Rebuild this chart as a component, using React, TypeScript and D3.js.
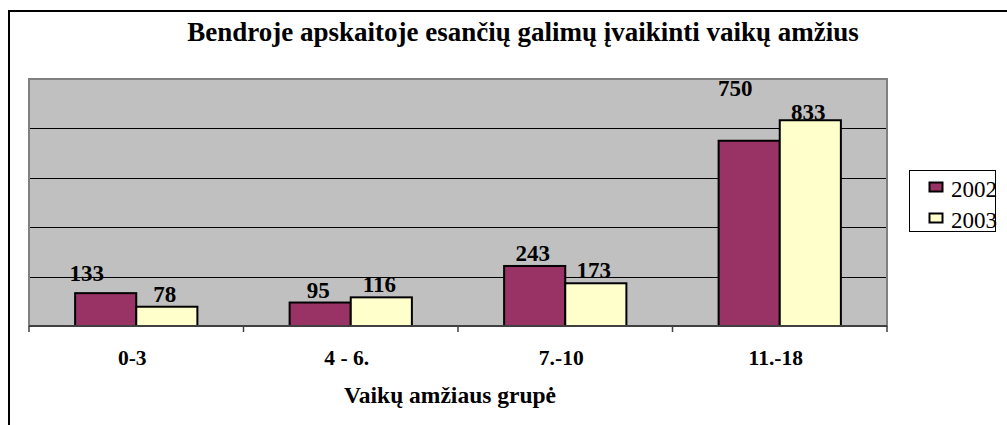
import React from 'react'
import * as d3 from 'd3'

const categories = ['0-3', '4 - 6.', '7.-10', '11.-18']
const seriesNames = ['2002', '2003']
const values2002 = [133, 95, 243, 750]
const values2003 = [78, 116, 173, 833]
const yTicks = [0, 200, 400, 600, 800, 1000]

const colors = ['#993366', '#FFFFCC']
const font = 'Liberation Serif'

// Excel moved a couple of labels off their bars, mimic that
const labelNudge: Record<string, [number, number]> = {
    '0-3|2002': [-17, -7],
    '11.-18|2002': [-12, -40],
    '11.-18|2003': [0, 5],
}

function App() {
    const W = 1007, H = 425
    const margin = { left: 29, right: 887, top: 79, bottom: 326 }

    const x = d3.scaleBand<string>()
        .domain(categories)
        .range([margin.left, margin.right])

    const barW = x.bandwidth() * 0.285
    const x1 = d3.scaleBand<string>()
        .domain(seriesNames)
        .range([(x.bandwidth() - barW * 2) / 2, (x.bandwidth() + barW * 2) / 2])

    const y = d3.scaleLinear()
        .domain([0, 1000])
        .range([margin.bottom, margin.top])

    const series = [values2002, values2003]

    return (
        <svg width={W} height={H} style={{ position: 'absolute', left: 0, top: 0 }}>
            <rect x={0} y={0} width={W} height={H} fill="#fff" />
            {/* outer chart frame */}
            <rect x={9} y={11} width={W + 20} height={H + 20} fill="none" stroke="#000" strokeWidth={2} />

            <text x={523} y={41} textAnchor="middle" fontSize={27} fontWeight="bold" fontFamily={font}>
                Bendroje apskaitoje esančių galimų įvaikinti vaikų amžius
            </text>

            {/* plot area */}
            <rect x={margin.left} y={margin.top} width={margin.right - margin.left}
                height={margin.bottom - margin.top} fill="#C0C0C0" />
            {yTicks.slice(1, -1).map(t => (
                <line key={t} x1={margin.left} x2={margin.right} y1={Math.round(y(t)) + 0.5} y2={Math.round(y(t)) + 0.5}
                    stroke="#000" strokeWidth={1} />
            ))}
            <rect x={margin.left} y={margin.top} width={margin.right - margin.left}
                height={margin.bottom - margin.top} fill="none" stroke="#808080" strokeWidth={2} />

            {/* bars */}
            {categories.map((c, i) => (
                <g key={c} transform={`translate(${x(c)},0)`}>
                    {seriesNames.map((s, j) => (
                        <rect key={s} x={x1(s)} y={y(series[j][i])} width={x1.bandwidth()}
                            height={y(0) - y(series[j][i])} fill={colors[j]} stroke="#000" strokeWidth={2} />
                    ))}
                </g>
            ))}

            {/* x axis */}
            <line x1={margin.left} x2={margin.right} y1={margin.bottom} y2={margin.bottom} stroke="#404040" strokeWidth={2} />
            {categories.concat(['']).map((c, i) => {
                const xx = margin.left + i * x.bandwidth()
                return <line key={i} x1={xx} x2={xx} y1={margin.bottom} y2={margin.bottom + 6} stroke="#404040" strokeWidth={1.5} />
            })}

            {/* value labels */}
            {categories.map((c, i) => seriesNames.map((s, j) => {
                const v = series[j][i]
                const nudge = labelNudge[`${c}|${s}`] || [0, 0]
                return (
                    <text key={c + s} x={(x(c) || 0) + (x1(s) || 0) + x1.bandwidth() / 2 - 2 + nudge[0]}
                        y={y(v) - 5 + nudge[1]} textAnchor="middle" fontSize={23} fontWeight="bold" fontFamily={font}>
                        {v}
                    </text>
                )
            }))}

            {/* category labels */}
            {categories.map(c => (
                <text key={c} x={(x(c) || 0) + x.bandwidth() / 2 - 4} y={365} textAnchor="middle"
                    fontSize={21.5} fontWeight="bold" fontFamily={font}>{c}</text>
            ))}

            <text x={450} y={403} textAnchor="middle" fontSize={23.5} fontWeight="bold" fontFamily={font}>
                Vaikų amžiaus grupė
            </text>

            {/* legend */}
            <rect x={909.5} y={170.5} width={86} height={61} fill="#fff" stroke="#000" strokeWidth={1} />
            {seriesNames.map((s, j) => (
                <g key={s} transform={`translate(0,${j * 31})`}>
                    <rect x={929.5} y={182.5} width={13} height={9} fill={colors[j]} stroke="#000" strokeWidth={2} />
                    <text x={951} y={197} fontSize={23} fontFamily={font}>{s}</text>
                </g>
            ))}
        </svg>
    )
}

export default App
